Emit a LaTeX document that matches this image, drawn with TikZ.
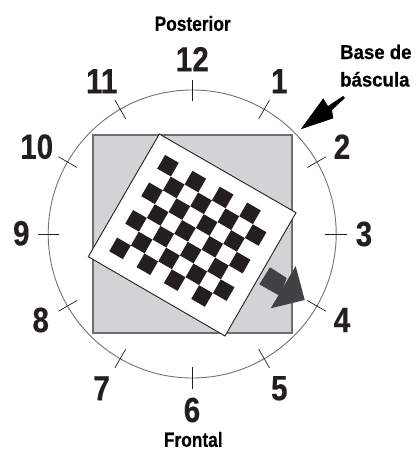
\documentclass[tikz,border=0pt]{standalone}
\usetikzlibrary{calc}
\usepackage{fontspec}
\setmainfont{Liberation Sans}[FakeStretch=0.845,BoldFeatures={FakeBold=0.4}]
\newfontfamily\widecap{Liberation Sans}[FakeStretch=0.93,BoldFeatures={FakeBold=0.4}]
\definecolor{basegray}{HTML}{D1D3D4}
\definecolor{edgegray}{HTML}{6D6E71}
\definecolor{arrowgray}{HTML}{414042}
\definecolor{cellblack}{HTML}{231F20}
\tikzset{
  hour/.style={font=\bfseries\fontsize{35}{35}\selectfont,text=cellblack,inner sep=0pt,anchor=center},
  caption/.style={font=\bfseries\fontsize{20.5}{20.5}\selectfont,text=black,inner sep=0pt,anchor=center},
  capbig/.style={font=\widecap\bfseries\fontsize{20}{20}\selectfont,text=black,inner sep=0pt,anchor=base west},
  tick/.style={draw=cellblack,line width=0.7pt},
}
\begin{document}
\begin{tikzpicture}[x=1pt,y=-1pt]
\useasboundingbox (0,0) rectangle (417,450);
\coordinate (c) at (192.2,234);
\draw[draw=black!55,line width=0.9pt] (c) circle[radius=144];
\foreach \a in {0,30,...,330}
  \draw[tick] ($(c)+(\a:133)$) -- ($(c)+(\a:154.5)$);
\draw[fill=basegray,draw=edgegray,line width=2pt] (93,134.5) rectangle (291.5,332.5);
\draw[fill=white,draw=cellblack,line width=0.9pt] (159.3,134) -- (296,212.7) -- (225,336) -- (88.3,256.7) -- cycle;
\foreach \j in {0,...,6}{
  \foreach \i in {0,...,7}{
    \pgfmathtruncatemacro{\p}{mod(\i+\j,2)}
    \ifnum\p=0
      \pgfmathsetmacro{\cx}{168+13.67*\i-8*\j}
      \pgfmathsetmacro{\cy}{165.7+7.94*\i+13.78*\j}
      \fill[cellblack,shift={(\cx,\cy)}] (-2.9,-10.77) -- (10.77,-2.9) -- (2.9,10.77) -- (-10.77,2.9) -- cycle;
    \fi
  }
}
\fill[arrowgray] (270,267.3) -- (286.7,278) -- (280,296) -- (259.3,284.3) -- cycle;
\fill[arrowgray] (295.7,266) -- (304.7,300) -- (270.7,308.3) -- cycle;
\fill[black] (300.7,129.3) -- (323.3,98.3) -- (328,106) -- (343,96) -- (345,98) -- (332,110) -- (333.3,118.3) -- cycle;
\node[hour] (h12) at (192.3,59.2) {12};
\node[hour] (h1) at (279.3,81.2) {1};
\node[hour] (h2) at (342,146.7) {2};
\node[hour] (h3) at (364,234) {3};
\node[hour] (h4) at (342,320) {4};
\node[hour] (h5) at (279.3,388.3) {5};
\node[hour] (h6) at (192,410) {6};
\node[hour] (h7) at (101.7,388.3) {7};
\node[hour] (h8) at (40.7,320) {8};
\node[hour] (h9) at (21.3,233.3) {9};
\node[hour] (h10) at (36.7,146.7) {10};
\node[hour] (h11) at (101.7,81.2) {11};
\node[caption] (post) at (192.7,23.5) {Posterior};
\node[caption] (front) at (193.3,439.5) {Frontal};
\node[capbig] (base) at (340,59) {Base de};
\node[capbig] (bas) at (340,86.5) {báscula};
\end{tikzpicture}
\end{document}
